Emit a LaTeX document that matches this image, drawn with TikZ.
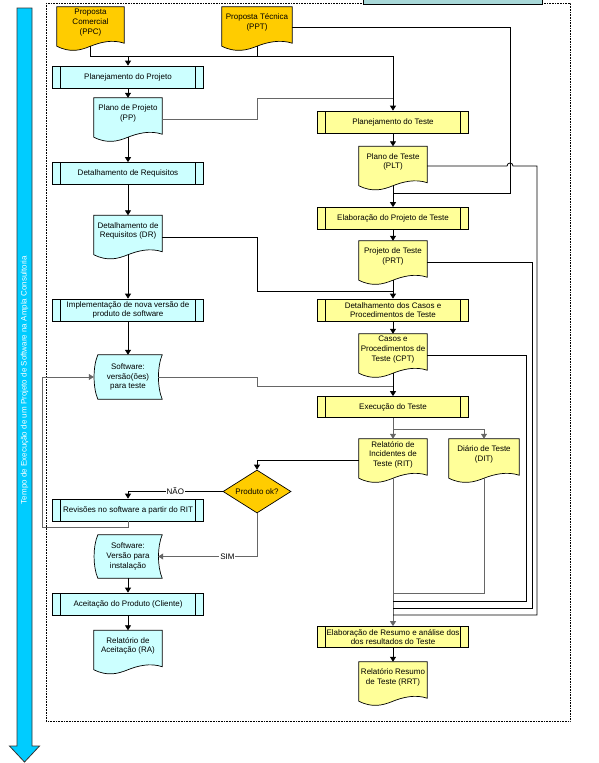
\documentclass[tikz,border=0pt]{standalone}
\usepackage{fontspec}
\setmainfont{Liberation Sans}
\usetikzlibrary{arrows.meta,calc,shapes.geometric}
\pgfdeclarelayer{bg}
\pgfsetlayers{bg,main}
\definecolor{cyanf}{HTML}{CCFFFF}
\definecolor{yelf}{HTML}{FFFF99}
\definecolor{orf}{HTML}{FFCC00}
\definecolor{arrowc}{HTML}{00CCFF}
\definecolor{topbox}{HTML}{A8D8D8}
\newcommand\docpath[2]{%
  \path[docline, fill=#2] (#1.north west) -- ($(#1.south west)+(0,8)$)
    .. controls +(14,7) and +(-10,4) .. ($(#1.south)+(0,8)$)
    .. controls +(10,-4) and +(-12,-4) .. ($(#1.south east)+(0,5)$)
    -- (#1.north east) -- cycle;}
\newcommand\tapepath[2]{%
  \path[docline, fill=#2] ($(#1.north west)+(4,0)$) -- (#1.north east)
    .. controls +(-5,12) and +(-5,-12) .. (#1.south east)
    -- ($(#1.south west)+(4,0)$)
    .. controls +(-5,-12) and +(-5,12) .. ($(#1.north west)+(4,0)$) -- cycle;}
\begin{document}
\begin{tikzpicture}[x=1pt,y=-1pt,
  font=\fontsize{8}{9.6}\selectfont,
  docline/.style={draw=black, line width=0.7pt},
  procbox/.style={draw=black, line width=0.7pt, minimum width=151pt, minimum height=22pt,
    inner sep=1pt, align=center,
    path picture={\draw[line width=0.6pt]
      ([xshift=8pt]path picture bounding box.north west) -- ([xshift=8pt]path picture bounding box.south west)
      ([xshift=-8pt]path picture bounding box.north east) -- ([xshift=-8pt]path picture bounding box.south east);}},
  docnode/.style={minimum width=68pt, minimum height=31pt, inner sep=0pt, align=center},
  tapenode/.style={minimum width=68pt, minimum height=44pt, inner sep=0pt, align=center},
  conn/.style={line width=0.8pt, draw=black},
  conng/.style={line width=0.8pt, draw=black!60},
  arr/.style={-{Triangle[width=6pt,length=5pt]}}]
\useasboundingbox (0,0) rectangle (599,763);

% time arrow
\path[fill=arrowc, draw=black!80, line width=0.8pt] (17,8) -- (32,8) -- (32,746) -- (39.5,746)
  -- (24.5,762) -- (9.5,746) -- (17,746) -- cycle;
\node[rotate=90, text=white] (tl) at (24.5,380) {Tempo de Execução de um Projeto de Software na Ampla Consultoria};

% frame
\draw[densely dotted, line width=0.6pt] (46,3) rectangle (570,721);
\path[fill=topbox, draw=black, line width=0.7pt] (363,-3) rectangle (542,4);

% left column
\node[docnode, minimum width=67pt] (ppc) at (90.5,22.5) {Proposta\\Comercial\\(PPC)};
\node[docnode, minimum width=70pt] (ppt) at (257,22.5) {Proposta Técnica\\(PPT)};
\node[procbox, fill=cyanf] (pproj) at (128,77) {Planejamento do Projeto};
\node[docnode] (pp) at (128,113.5) {Plano de Projeto\\(PP)};
\node[procbox, fill=cyanf] (detreq) at (128,173.5) {Detalhamento de Requisitos};
\node[docnode] (dr) at (128,231) {Detalhamento de\\Requisitos (DR)};
\node[procbox, fill=cyanf] (impl) at (128,310) {Implementação de nova versão de\\produto de software};
\node[tapenode] (swt) at (128,377) {Software:\\versão(ões)\\para teste};
\node[procbox, fill=cyanf] (rev) at (128,510) {Revisões no software a partir do RIT};
\node[tapenode, minimum height=43pt] (swi) at (128,556.5) {Software:\\Versão para\\instalação};
\node[procbox, fill=cyanf] (acei) at (128,604) {Aceitação do Produto (Cliente)};
\node[docnode] (ra) at (128,646) {Relatório de\\Aceitação (RA)};

% right column
\node[procbox, fill=yelf] (plant) at (393,122) {Planejamento do Teste};
\node[docnode] (plt) at (393,162) {Plano de Teste\\(PLT)};
\node[procbox, fill=yelf] (elab) at (393,218.5) {Elaboração do Projeto de Teste};
\node[docnode] (prt) at (393,256.5) {Projeto de Teste\\(PRT)};
\node[procbox, fill=yelf] (detcas) at (393,310) {Detalhamento dos Casos e\\Procedimentos de Teste};
\node[docnode] (cpt) at (393,349.5) {Casos e\\Procedimentos de\\Teste (CPT)};
\node[procbox, fill=yelf, minimum height=21pt] (exec) at (393,407) {Execução do Teste};
\node[docnode] (rit) at (393,454.5) {Relatório de\\Incidentes de\\Teste (RIT)};
\node[docnode, minimum width=70pt] (dit) at (484,454.5) {Diário de Teste\\(DIT)};
\node[diamond, draw, line width=0.7pt, fill=orf, minimum width=68pt, minimum height=43pt, inner sep=0pt, aspect=1.6] (dec) at (257,491.5) {Produto ok?};
\node[procbox, fill=yelf, minimum height=21pt] (resumo) at (393,637) {Elaboração de Resumo e análise dos\\dos resultados do Teste};
\node[docnode] (rrt) at (393,677.5) {Relatório Resumo\\de Teste (RRT)};

\begin{pgfonlayer}{bg}
\docpath{ppc}{orf}
\docpath{ppt}{orf}
\docpath{pp}{cyanf}
\docpath{dr}{cyanf}
\docpath{ra}{cyanf}
\docpath{plt}{yelf}
\docpath{prt}{yelf}
\docpath{cpt}{yelf}
\docpath{rit}{yelf}
\docpath{dit}{yelf}
\docpath{rrt}{yelf}
\tapepath{swt}{cyanf}
\tapepath{swi}{cyanf}
\end{pgfonlayer}

% coordinates
\coordinate (bus) at (393,56);
\coordinate (k1) at (257,98);
\coordinate (r1) at (510,193);
\coordinate (k2) at (257,291);
\coordinate (k3) at (257,386);
\coordinate (sp) at (393,429);
\coordinate (v1) at (484,593);
\coordinate (v2) at (526,601);
\coordinate (v3) at (532,608);
\coordinate (v4) at (537,615);
\coordinate (lp) at (42,527);
\coordinate (pltr) at ($(plt.east)+(0,4)$);

% top inputs
\draw[conn] ($(ppc.south)+(0,8)$) |- (bus);
\draw[conn] ($(ppt.south)+(0,8)$) -- (ppt.south |- bus);
\draw[conn,arr] (pproj.north |- bus) -- (pproj.north);
\draw[conn,arr] (bus) -- (plant.north);
\draw[conng] ($(pp.east)+(0,6)$) -| (k1) -- (k1 -| plant.north);
\draw[conn] ($(ppt.east)+(0,5)$) -| (r1) -- (r1 -| plt.south);

% left chain
\draw[conn,arr] (pproj.south) -- (pp.north);
\draw[conn,arr] ($(pp.south)+(0,8)$) -- (detreq.north);
\draw[conn,arr] (detreq.south) -- (dr.north);
\draw[conn,arr] ($(dr.south)+(0,8)$) -- (impl.north);
\draw[conn,arr] (impl.south) -- (swt.north);
\draw[conn,arr] (swi.south) -- (acei.north);
\draw[conn,arr] (acei.south) -- (ra.north);

% right chain
\draw[conn,arr] (plant.south) -- (plt.north);
\draw[conn,arr] ($(plt.south)+(0,8)$) -- (elab.north);
\draw[conn,arr] (elab.south) -- (prt.north);
\draw[conn,arr] ($(prt.south)+(0,8)$) -- (detcas.north);
\draw[conn,arr] (detcas.south) -- (cpt.north);
\draw[conn,arr] ($(cpt.south)+(0,8)$) -- (exec.north);
\draw[conn] ($(dr.east)+(0,6)$) -| (k2) -- (k2 -| detcas.north);
\draw[conng] ($(swt.east)+(-4,0)$) -| (k3) -- (k3 -| exec.north);
\draw[conng,arr] (exec.south) -- (rit.north);
\draw[conng,arr] (sp) -| (dit.north);
\draw[conng,arr] ($(rit.south)+(0,8)$) -- (resumo.north);
\draw[conn,arr] (resumo.south) -- (rrt.north);

% feedback lines to summary
\draw[conng] ($(dit.south)+(0,8)$) -- (v1) -- (v1 -| rit.south);
\draw[conn] ($(cpt.east)+(0,6)$) -| (v2) -- (v2 -| rit.south);
\draw[conn] ($(prt.east)+(0,6)$) -| (v3) -- (v3 -| rit.south);
\draw[conn] (pltr) -- ($(r1 |- pltr)+(-3,0)$) arc[start angle=180, end angle=360, radius=3]
  -- (pltr -| v4) -- (v4) -- (v4 -| rit.south);

% decision
\draw[conn,arr] ($(rit.west)+(0,6)$) -| (dec.north);
\draw[conn,arr] (dec.west) -| node[pos=0.25, fill=white, inner sep=1pt] (nao) {NÃO} (rev.north);
\draw[conng,arr] (dec.south) |- node[pos=0.65, fill=white, inner sep=1pt] (sim) {SIM} ($(swi.east)+(-4,0)$);
\draw[conng,arr] (rev.south) |- (lp) |- (swt.west);
\end{tikzpicture}
\end{document}
